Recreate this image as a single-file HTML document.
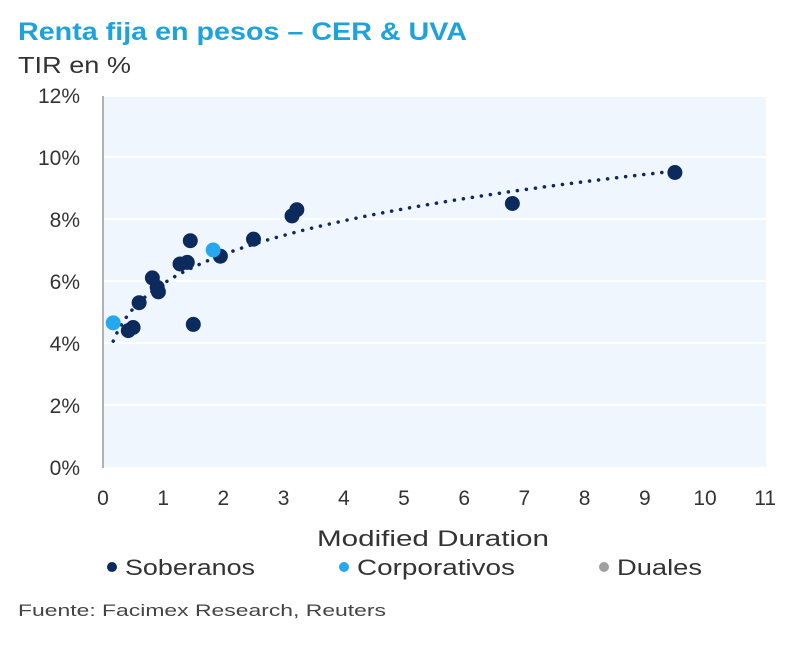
<!DOCTYPE html>
<html><head><meta charset="utf-8"><style>
body{margin:0;background:#fff;width:800px;height:641px;overflow:hidden;font-family:"Liberation Sans",sans-serif}
text{font-family:"Liberation Sans",sans-serif}
</style></head><body>
<svg id="c" width="800" height="641">
<text x="18" y="40" font-size="25" font-weight="bold" fill="#1ea2dc" textLength="449" lengthAdjust="spacingAndGlyphs">Renta fija en pesos – CER &amp; UVA</text>
<text x="18" y="73" font-size="23" fill="#333" textLength="113" lengthAdjust="spacingAndGlyphs">TIR en %</text>
<rect x="104" y="97" width="662" height="370" fill="#f0f6fd"/>
<g id="grid"></g><g id="trend"></g><g id="pts"></g><g id="ticks"></g>
<line x1="103" y1="96" x2="103" y2="468" stroke="#999" stroke-width="1.5"/>
<text x="317" y="546" font-size="22" fill="#333" textLength="232" lengthAdjust="spacingAndGlyphs">Modified Duration</text>
<g>
<circle cx="112" cy="567" r="5" fill="#0d2a5c"/>
<text x="125" y="575" font-size="22" fill="#333" textLength="130" lengthAdjust="spacingAndGlyphs">Soberanos</text>
<circle cx="344" cy="567" r="5" fill="#26a8ef"/>
<text x="357" y="575" font-size="22" fill="#333" textLength="158" lengthAdjust="spacingAndGlyphs">Corporativos</text>
<circle cx="604" cy="567" r="5" fill="#a0a0a0"/>
<text x="617" y="575" font-size="22" fill="#333" textLength="85" lengthAdjust="spacingAndGlyphs">Duales</text>
</g>
<text x="18" y="616" font-size="17" fill="#444" textLength="368" lengthAdjust="spacingAndGlyphs">Fuente: Facimex Research, Reuters</text>
</svg>
<script>
const xTicks=[0,1,2,3,4,5,6,7,8,9,10,11];
const yTicks=[0,2,4,6,8,10,12];
const yTickLabels=["0%","2%","4%","6%","8%","10%","12%"];
const soberanosX=[0.42,0.5,0.6,0.82,0.9,0.92,1.45,1.5,1.28,1.4,1.95,2.5,3.14,3.22,6.8,9.5];
const soberanosY=[4.4,4.5,5.3,6.1,5.8,5.65,7.3,4.6,6.55,6.6,6.8,7.35,8.1,8.3,8.5,9.5];
const corporativosX=[0.17,1.83];
const corporativosY=[4.65,7.0];
const X=v=>103+v*60.2, Y=v=>467-v*31;
const NS="http://www.w3.org/2000/svg";
function mk(t,a,p){const e=document.createElementNS(NS,t);for(const k in a)e.setAttribute(k,a[k]);p.appendChild(e);return e;}
const grid=document.getElementById('grid'),ticks=document.getElementById('ticks'),trend=document.getElementById('trend'),pts=document.getElementById('pts');
yTicks.forEach((v,i)=>{
 if(v>0){const g=mk('line',{x1:104,x2:766,y1:Y(v),y2:Y(v),stroke:'#fff','stroke-width':2},grid);
 
 }
 const t=mk('text',{x:80,y:Y(v)+8,'text-anchor':'end','font-size':21,fill:'#333'},ticks);t.textContent=yTickLabels[i];
 
 
});
xTicks.forEach(v=>{
 const t=mk('text',{x:X(v),y:505,'text-anchor':'middle','font-size':21,fill:'#333'},ticks);t.textContent=v;
 
 
});
// power trendline fit (log-log regression)
const ax=soberanosX.concat(corporativosX),ay=soberanosY.concat(corporativosY);
const lx=ax.map(Math.log),ly=ay.map(Math.log),n=ax.length;
const mx=lx.reduce((a,b)=>a+b)/n,my=ly.reduce((a,b)=>a+b)/n;
let sxy=0,sxx=0;lx.forEach((l,i)=>{sxy+=(l-mx)*(ly[i]-my);sxx+=(l-mx)**2;});
const b=sxy/sxx,a=Math.exp(my-b*mx);
let d='';const x0=Math.min(...ax),x1=Math.max(...ax);
for(let i=0;i<=200;i++){const xv=x0+(x1-x0)*i/200;d+=(i?'L':'M')+X(xv).toFixed(1)+','+Y(a*Math.pow(xv,b)).toFixed(1);}
const tl=mk('path',{d:d,fill:'none',stroke:'#0d2a5c','stroke-width':3.5,'stroke-dasharray':'0.1 9','stroke-linecap':'round'},trend);


soberanosX.forEach((v,i)=>{const c=mk('circle',{cx:X(v),cy:Y(soberanosY[i]),r:7.5,fill:'#0d2a5c'},pts);
 
 });
corporativosX.forEach((v,i)=>{const c=mk('circle',{cx:X(v),cy:Y(corporativosY[i]),r:7.5,fill:'#26a8ef'},pts);
 
 });
</script>
</body></html>
